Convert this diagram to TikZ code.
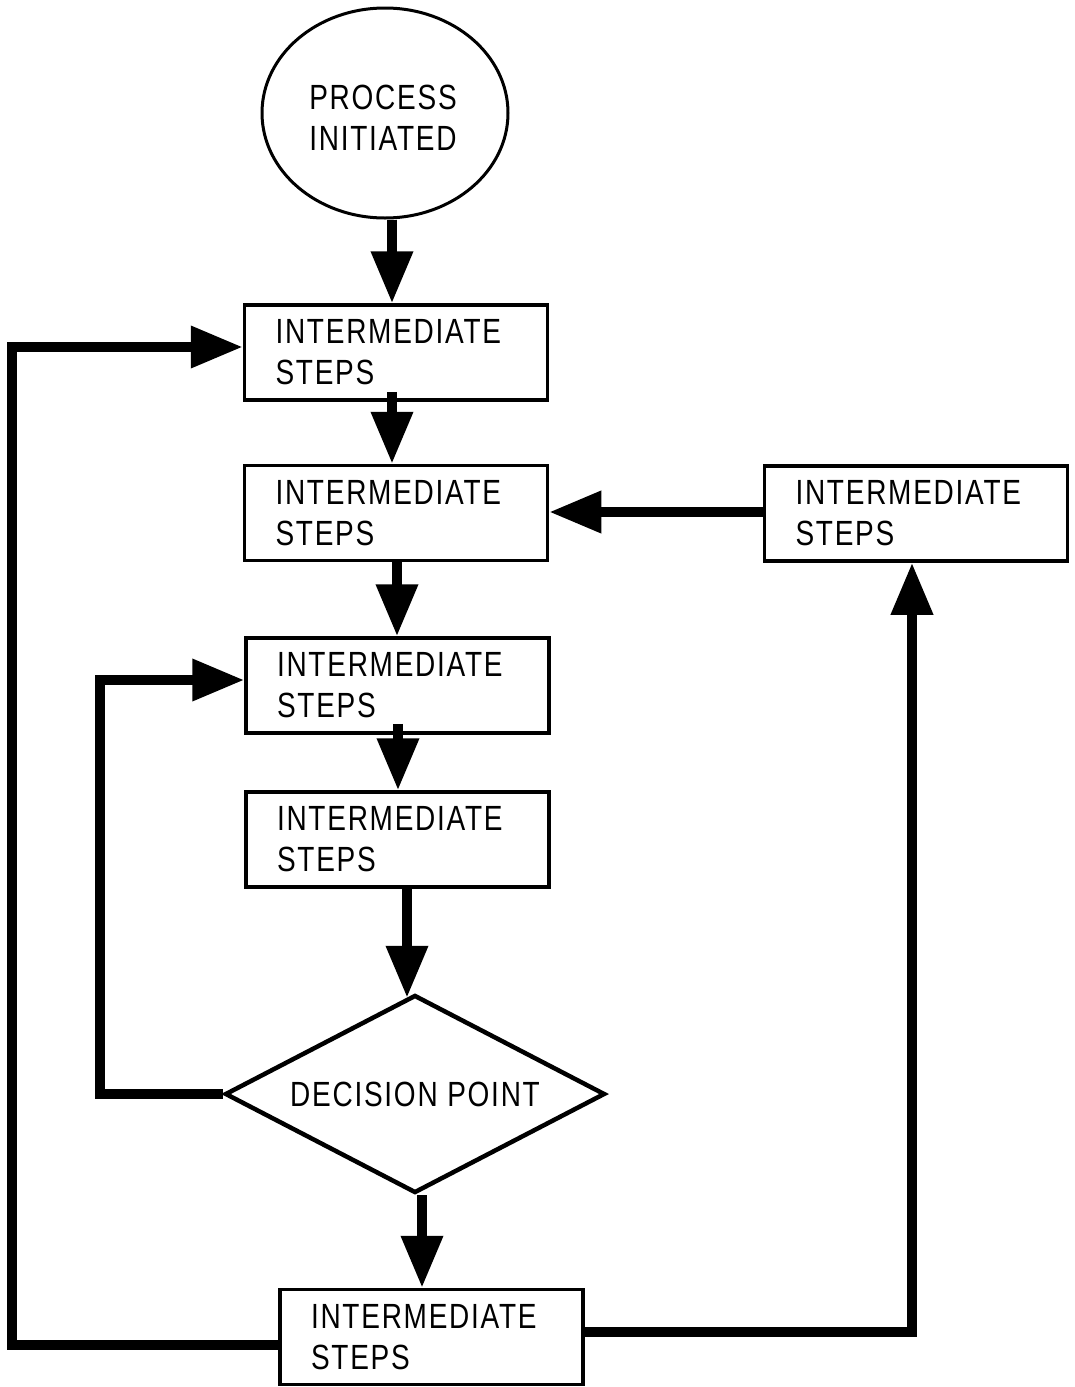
\documentclass[tikz,border=0pt]{standalone}
\usepackage{fontspec}
\setmainfont{Liberation Sans}[FakeStretch=0.8,LetterSpace=5]
\usetikzlibrary{arrows.meta,shapes.geometric}
\begin{document}
\begin{tikzpicture}[x=1pt,y=-1pt,
  lettering/.style={font=\fontsize{35}{41}\selectfont},
  stepbox/.style={draw,line width=3.5pt,rectangle,minimum width=303pt,minimum height=95pt,
    inner xsep=31pt,inner ysep=0pt,text width=241pt,align=left,lettering},
  startnode/.style={draw,line width=3pt,ellipse,minimum width=246pt,minimum height=210pt,inner sep=0pt},
  decision/.style={draw,line width=4.5pt,diamond,shape aspect=1.92,minimum width=380pt,
    minimum height=198pt,inner sep=0pt,lettering},
  flow/.style={line width=10pt,-{Triangle[length=52pt,width=40pt]}}]
\useasboundingbox (0,0) rectangle (1074,1387);

% start of the process
\node[startnode] (e) at (385,113) {};
\node[lettering,align=left] (etext) at (383,118) {PROCESS\\INITIATED};

% main column of steps
\node[stepbox] (b1) at (396,352.5) {INTERMEDIATE\\STEPS};
\node[stepbox] (b2) at (396,513) {INTERMEDIATE\\STEPS};
\node[stepbox] (b3) at (397.5,685.5) {INTERMEDIATE\\STEPS};
\node[stepbox] (b4) at (397.5,839.5) {INTERMEDIATE\\STEPS};
\node[decision] (d) at (415,1094) {DECISION POINT};
\node[stepbox] (b5) at (431.5,1337) {INTERMEDIATE\\STEPS};

% side branch on the right
\node[stepbox] (bR) at (916,513.5) {INTERMEDIATE\\STEPS};

% loop corners
\coordinate (lc) at (12,347);
\coordinate (ic) at (100,680);

% downward flow
\draw[flow] ([xshift=7pt]e.south) -- ([xshift=-4pt]b1.north);
\draw[flow] ([xshift=-4pt,yshift=10pt]b1.south) -- ([xshift=-4pt]b2.north);
\draw[flow] ([xshift=1pt]b2.south) -- ([xshift=-0.5pt]b3.north);
\draw[flow] ([xshift=0.5pt,yshift=11pt]b3.south) -- ([xshift=0.5pt]b4.north);
\draw[flow] ([xshift=9.5pt]b4.south) -- ([xshift=-8pt,yshift=-5pt]d.north);
\draw[flow] ([xshift=7pt]d.south) -- ([xshift=-9.5pt]b5.north);

% feedback loops
\draw[flow] ([yshift=-8pt]b5.west) -| (lc) -- ([yshift=5.5pt]b1.west);
\draw[flow] (d.west) -| (ic) -- ([yshift=5.5pt]b3.west);
\draw[flow] ([yshift=5pt]b5.east) -| ([xshift=-4pt]bR.south);
\draw[flow] ([yshift=1.5pt]bR.west) -- ([yshift=1pt]b2.east);
\end{tikzpicture}
\end{document}
